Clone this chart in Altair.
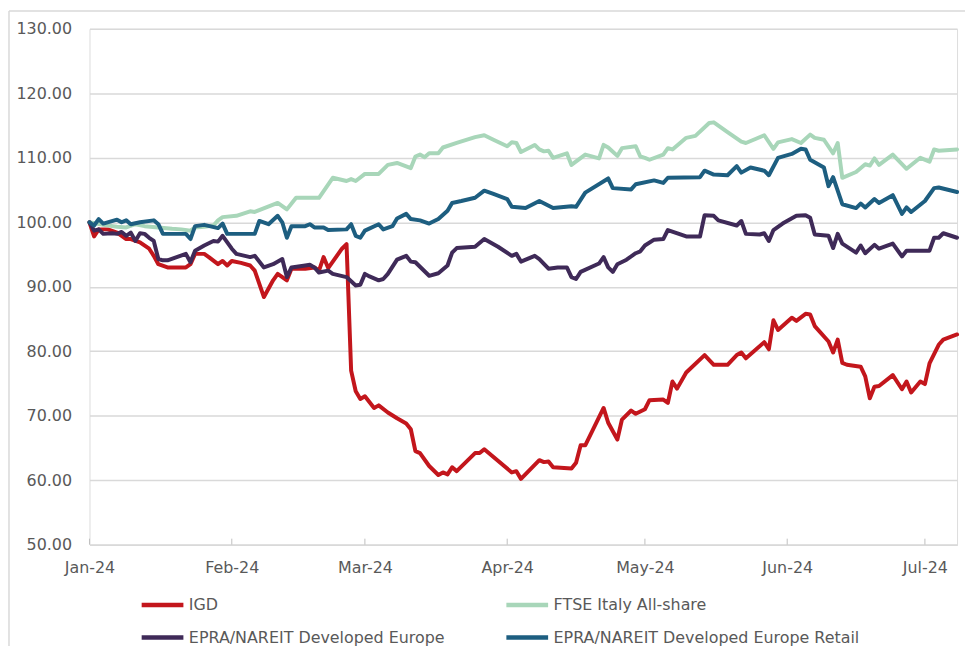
import altair as alt
import pandas as pd

SERIES = ["IGD", "FTSE Italy All-share", "EPRA/NAREIT Developed Europe",
          "EPRA/NAREIT Developed Europe Retail"]
COLORS = ["#C3161C", "#A8D6B9", "#3F2A58", "#1D5E80"]

igd_dates = ["2024-01-01", "2024-01-02", "2024-01-03", "2024-01-05", "2024-01-07", "2024-01-09",
             "2024-01-10", "2024-01-12", "2024-01-14", "2024-01-15", "2024-01-16", "2024-01-18",
             "2024-01-22", "2024-01-23", "2024-01-24", "2024-01-26", "2024-01-27", "2024-01-29",
             "2024-01-30", "2024-01-31", "2024-02-01", "2024-02-03", "2024-02-05", "2024-02-06",
             "2024-02-08", "2024-02-10", "2024-02-11", "2024-02-13", "2024-02-14", "2024-02-17",
             "2024-02-19", "2024-02-20", "2024-02-21", "2024-02-22", "2024-02-25", "2024-02-26",
             "2024-02-27", "2024-02-28", "2024-02-29", "2024-03-01", "2024-03-03", "2024-03-04",
             "2024-03-06", "2024-03-08", "2024-03-10", "2024-03-11", "2024-03-12", "2024-03-13",
             "2024-03-15", "2024-03-17", "2024-03-18", "2024-03-19", "2024-03-20", "2024-03-21",
             "2024-03-25", "2024-03-26", "2024-03-27", "2024-04-02", "2024-04-03", "2024-04-04",
             "2024-04-08", "2024-04-09", "2024-04-10", "2024-04-11", "2024-04-15", "2024-04-16",
             "2024-04-17", "2024-04-18", "2024-04-22", "2024-04-23", "2024-04-25", "2024-04-26",
             "2024-04-28", "2024-04-29", "2024-05-01", "2024-05-02", "2024-05-05", "2024-05-06",
             "2024-05-07", "2024-05-08", "2024-05-10", "2024-05-14", "2024-05-16", "2024-05-19",
             "2024-05-21", "2024-05-22", "2024-05-23", "2024-05-27", "2024-05-28", "2024-05-29",
             "2024-05-30", "2024-06-02", "2024-06-03", "2024-06-05", "2024-06-06", "2024-06-07",
             "2024-06-10", "2024-06-11", "2024-06-12", "2024-06-13", "2024-06-14", "2024-06-17",
             "2024-06-18", "2024-06-19", "2024-06-20", "2024-06-21", "2024-06-24", "2024-06-26",
             "2024-06-27", "2024-06-28", "2024-06-30", "2024-07-01", "2024-07-02", "2024-07-04",
             "2024-07-05", "2024-07-08"]
igd_values = [100.0, 97.8, 98.9, 98.9, 98.4, 97.4,
              97.4, 96.9, 95.9, 94.8, 93.5, 93.0,
              93.0, 93.5, 95.1, 95.1, 94.6, 93.5,
              94.0, 93.3, 94.0, 93.7, 93.3, 92.5,
              88.4, 91.0, 92.0, 91.0, 92.8, 92.8,
              93.0, 92.5, 94.6, 92.9, 95.9, 96.6,
              77.0, 73.8, 72.6, 73.0, 71.2, 71.6,
              70.5, 69.6, 68.8, 67.9, 64.5, 64.2,
              62.2, 60.8, 61.2, 60.9, 62.0, 61.4,
              64.2, 64.2, 64.8, 61.2, 61.4, 60.2,
              63.1, 62.8, 62.9, 62.0, 61.8, 62.7,
              65.4, 65.4, 71.2, 68.9, 66.3, 69.4,
              70.8, 70.3, 71.0, 72.4, 72.5, 72.0,
              75.3, 74.2, 76.7, 79.4, 77.9, 77.9,
              79.4, 79.8, 78.9, 81.4, 80.3, 84.8,
              83.3, 85.2, 84.7, 85.8, 85.7, 83.9,
              81.5, 79.8, 81.8, 78.2, 77.9, 77.6,
              76.1, 72.7, 74.5, 74.6, 76.3, 74.1,
              75.3, 73.6, 75.3, 74.9, 78.1, 81.0,
              81.8, 82.6]

ftse_dates = ["2024-01-01", "2024-01-04", "2024-01-07", "2024-01-09", "2024-01-11", "2024-01-13",
              "2024-01-16", "2024-01-19", "2024-01-21", "2024-01-23", "2024-01-24", "2024-01-26",
              "2024-01-28", "2024-01-29", "2024-01-30", "2024-02-02", "2024-02-05", "2024-02-06",
              "2024-02-11", "2024-02-13", "2024-02-15", "2024-02-20", "2024-02-23", "2024-02-26",
              "2024-02-27", "2024-02-28", "2024-03-01", "2024-03-04", "2024-03-06", "2024-03-08",
              "2024-03-11", "2024-03-12", "2024-03-13", "2024-03-14", "2024-03-15", "2024-03-17",
              "2024-03-18", "2024-03-21", "2024-03-25", "2024-03-27", "2024-03-29", "2024-04-01",
              "2024-04-02", "2024-04-03", "2024-04-04", "2024-04-07", "2024-04-08", "2024-04-09",
              "2024-04-10", "2024-04-11", "2024-04-14", "2024-04-15", "2024-04-18", "2024-04-21",
              "2024-04-22", "2024-04-23", "2024-04-25", "2024-04-26", "2024-04-29", "2024-04-30",
              "2024-05-01", "2024-05-02", "2024-05-05", "2024-05-06", "2024-05-07", "2024-05-10",
              "2024-05-12", "2024-05-15", "2024-05-16", "2024-05-19", "2024-05-22", "2024-05-23",
              "2024-05-27", "2024-05-29", "2024-05-30", "2024-06-02", "2024-06-04", "2024-06-06",
              "2024-06-07", "2024-06-09", "2024-06-11", "2024-06-12", "2024-06-13", "2024-06-16",
              "2024-06-18", "2024-06-19", "2024-06-20", "2024-06-21", "2024-06-24", "2024-06-27",
              "2024-06-30", "2024-07-02", "2024-07-03", "2024-07-04", "2024-07-08"]
ftse_values = [100.0, 99.6, 99.3, 99.2, 99.7, 99.4,
               99.2, 99.0, 98.9, 98.7, 99.2, 99.3,
               99.5, 100.3, 100.8, 101.0, 101.7, 101.6,
               103.0, 102.0, 103.8, 103.8, 106.9, 106.4,
               106.7, 106.4, 107.5, 107.5, 108.9, 109.2,
               108.4, 110.2, 110.5, 110.1, 110.7, 110.7,
               111.6, 112.3, 113.2, 113.5, 112.8, 111.8,
               112.4, 112.3, 110.9, 112.0, 111.3, 111.0,
               111.1, 110.0, 110.7, 108.9, 110.5, 109.9,
               112.0, 111.6, 110.3, 111.5, 111.8, 110.2,
               110.0, 109.7, 110.5, 111.5, 111.3, 113.1,
               113.4, 115.4, 115.5, 114.0, 112.5, 112.3,
               113.5, 111.4, 112.4, 112.9, 112.3, 113.6,
               113.1, 112.8, 110.7, 112.3, 106.9, 107.8,
               109.0, 108.8, 109.9, 108.9, 110.5, 108.3,
               110.0, 109.4, 111.3, 111.1, 111.3]

epra_dates = ["2024-01-01", "2024-01-02", "2024-01-03", "2024-01-04", "2024-01-06", "2024-01-07",
              "2024-01-08", "2024-01-09", "2024-01-10", "2024-01-11", "2024-01-12", "2024-01-13",
              "2024-01-14", "2024-01-15", "2024-01-16", "2024-01-17", "2024-01-18", "2024-01-20",
              "2024-01-22", "2024-01-23", "2024-01-24", "2024-01-26", "2024-01-28", "2024-01-29",
              "2024-01-30", "2024-02-01", "2024-02-02", "2024-02-05", "2024-02-06", "2024-02-08",
              "2024-02-10", "2024-02-12", "2024-02-13", "2024-02-14", "2024-02-17", "2024-02-18",
              "2024-02-19", "2024-02-20", "2024-02-22", "2024-02-23", "2024-02-26", "2024-02-28",
              "2024-02-29", "2024-03-01", "2024-03-02", "2024-03-04", "2024-03-05", "2024-03-06",
              "2024-03-08", "2024-03-10", "2024-03-11", "2024-03-12", "2024-03-15", "2024-03-17",
              "2024-03-19", "2024-03-20", "2024-03-21", "2024-03-25", "2024-03-27", "2024-03-30",
              "2024-04-02", "2024-04-03", "2024-04-04", "2024-04-07", "2024-04-08", "2024-04-10",
              "2024-04-12", "2024-04-14", "2024-04-15", "2024-04-16", "2024-04-17", "2024-04-21",
              "2024-04-22", "2024-04-23", "2024-04-24", "2024-04-25", "2024-04-27", "2024-04-29",
              "2024-04-30", "2024-05-01", "2024-05-03", "2024-05-05", "2024-05-06", "2024-05-10",
              "2024-05-13", "2024-05-14", "2024-05-16", "2024-05-17", "2024-05-21", "2024-05-22",
              "2024-05-23", "2024-05-26", "2024-05-27", "2024-05-28", "2024-05-29", "2024-05-31",
              "2024-06-03", "2024-06-05", "2024-06-06", "2024-06-07", "2024-06-10", "2024-06-11",
              "2024-06-12", "2024-06-13", "2024-06-16", "2024-06-17", "2024-06-18", "2024-06-20",
              "2024-06-21", "2024-06-24", "2024-06-26", "2024-06-27", "2024-07-02", "2024-07-03",
              "2024-07-04", "2024-07-05", "2024-07-08"]
epra_values = [100.0, 98.7, 98.9, 98.2, 98.3, 98.2,
               98.5, 97.9, 98.4, 97.1, 98.3, 98.2,
               97.6, 97.1, 94.3, 94.1, 94.1, 94.6,
               95.1, 93.8, 95.6, 96.4, 97.1, 97.0,
               97.9, 95.9, 95.1, 94.6, 94.8, 93.0,
               93.5, 94.3, 91.5, 93.0, 93.3, 93.4,
               93.0, 92.2, 92.5, 92.0, 91.5, 90.2,
               90.3, 92.0, 91.6, 91.0, 91.2, 92.0,
               94.2, 94.8, 93.9, 93.8, 91.7, 92.1,
               93.3, 95.3, 96.0, 96.2, 97.4, 96.2,
               94.8, 95.1, 93.9, 94.8, 94.3, 92.8,
               93.0, 93.0, 91.5, 91.2, 92.3, 93.6,
               94.6, 93.0, 92.3, 93.5, 94.2, 95.2,
               95.5, 96.4, 97.3, 97.4, 98.8, 97.8,
               97.8, 101.1, 101.0, 100.3, 99.5, 100.2,
               98.2, 98.1, 98.3, 97.1, 98.8, 99.8,
               101.0, 101.1, 100.7, 98.1, 97.9, 96.0,
               98.2, 96.7, 95.3, 96.4, 95.2, 96.5,
               95.9, 96.7, 94.7, 95.6, 95.6, 97.6,
               97.6, 98.3, 97.6]

retail_dates = ["2024-01-01", "2024-01-02", "2024-01-03", "2024-01-04", "2024-01-07", "2024-01-08",
                "2024-01-09", "2024-01-10", "2024-01-12", "2024-01-15", "2024-01-16", "2024-01-17",
                "2024-01-19", "2024-01-22", "2024-01-23", "2024-01-24", "2024-01-26", "2024-01-29",
                "2024-01-30", "2024-01-31", "2024-02-03", "2024-02-06", "2024-02-07", "2024-02-09",
                "2024-02-11", "2024-02-12", "2024-02-13", "2024-02-14", "2024-02-17", "2024-02-18",
                "2024-02-19", "2024-02-21", "2024-02-22", "2024-02-26", "2024-02-27", "2024-02-28",
                "2024-02-29", "2024-03-01", "2024-03-04", "2024-03-05", "2024-03-07", "2024-03-08",
                "2024-03-10", "2024-03-11", "2024-03-13", "2024-03-15", "2024-03-17", "2024-03-19",
                "2024-03-20", "2024-03-22", "2024-03-25", "2024-03-27", "2024-03-29", "2024-04-01",
                "2024-04-02", "2024-04-05", "2024-04-08", "2024-04-11", "2024-04-15", "2024-04-16",
                "2024-04-18", "2024-04-23", "2024-04-24", "2024-04-28", "2024-04-29", "2024-05-03",
                "2024-05-05", "2024-05-06", "2024-05-13", "2024-05-14", "2024-05-16", "2024-05-19",
                "2024-05-21", "2024-05-22", "2024-05-24", "2024-05-27", "2024-05-28", "2024-05-30",
                "2024-06-02", "2024-06-04", "2024-06-05", "2024-06-06", "2024-06-09", "2024-06-10",
                "2024-06-11", "2024-06-13", "2024-06-16", "2024-06-17", "2024-06-18", "2024-06-20",
                "2024-06-21", "2024-06-24", "2024-06-26", "2024-06-27", "2024-06-28", "2024-07-01",
                "2024-07-03", "2024-07-04", "2024-07-08"]
retail_values = [100.0, 99.5, 100.5, 99.8, 100.4, 100.0,
                 100.3, 99.7, 100.0, 100.3, 99.7, 98.2,
                 98.2, 98.2, 97.4, 99.4, 99.6, 99.1,
                 99.8, 98.2, 98.2, 98.2, 100.2, 99.7,
                 101.0, 100.0, 97.6, 99.4, 99.4, 99.7,
                 99.2, 99.2, 98.8, 98.9, 99.7, 97.9,
                 97.6, 98.7, 99.7, 98.9, 99.4, 100.6,
                 101.3, 100.5, 100.3, 99.8, 100.5, 101.8,
                 103.0, 103.3, 103.8, 104.9, 104.4, 103.6,
                 102.4, 102.2, 103.3, 102.2, 102.5, 102.4,
                 104.6, 106.8, 105.3, 105.1, 105.9, 106.5,
                 106.1, 106.9, 107.0, 108.0, 107.4, 107.3,
                 108.7, 107.7, 108.5, 108.0, 107.3, 110.0,
                 110.6, 111.4, 111.3, 109.7, 108.5, 105.6,
                 107.0, 102.8, 102.2, 102.9, 102.3, 103.6,
                 103.0, 104.2, 101.3, 102.3, 101.6, 103.3,
                 105.3, 105.4, 104.7]

MONTH_TICKS = ["2024-01-01", "2024-02-01", "2024-03-01", "2024-04-01",
               "2024-05-01", "2024-06-01", "2024-07-01"]
Y_TICKS = [50, 60, 70, 80, 90, 100, 110, 120, 130]

frames = []
for name, d, v in zip(SERIES, [igd_dates, ftse_dates, epra_dates, retail_dates],
                      [igd_values, ftse_values, epra_values, retail_values]):
    frames.append(pd.DataFrame({"date": pd.to_datetime(d), "value": v, "series": name}))
df = pd.concat(frames, ignore_index=True)

W, H = 873, 519
FONT = "DejaVu Sans"
TXT = "#595959"
GRID = "#D9D9D9"

x_scale = alt.Scale(domain=[alt.DateTime(year=2024, month=1, date=1),
                            alt.DateTime(year=2024, month=7, date=8)], nice=False)
y_scale = alt.Scale(domain=[50, 130], nice=False, zero=False)
color_scale = alt.Scale(domain=SERIES, range=COLORS)

x_axis = alt.Axis(title=None, format="%b-%y", grid=False, ticks=False, domain=True,
                  domainColor=GRID, domainWidth=1.5, labelFlush=False, labelOverlap=False,
                  values=[alt.DateTime(year=2024, month=m, date=1) for m in range(1, 8)],
                  labelPadding=15, labelFontSize=16, labelColor=TXT, labelFont=FONT)
y_axis = alt.Axis(title=None, format=".2f", values=Y_TICKS, grid=True, gridColor=GRID,
                  gridWidth=1.5, domain=False, ticks=False, labelPadding=18,
                  labelFontSize=16, labelColor=TXT, labelFont=FONT)
legend = alt.Legend(title=None, orient="none", direction="horizontal", legendX=50,
                    legendY=556, columns=2,
                    symbolType="stroke", symbolSize=1764, symbolStrokeWidth=4.5,
                    labelFontSize=16, labelFont=FONT, labelColor=TXT, labelLimit=600,
                    labelOffset=3, columnPadding=52, rowPadding=-12, padding=0)

layers = []
tick_df = pd.DataFrame({"date": pd.to_datetime(MONTH_TICKS)})
ticks = alt.Chart(tick_df).mark_rule(color="#BFBFBF", strokeWidth=1).encode(
    x=alt.X("date:T", scale=x_scale, axis=x_axis),
    y=alt.value(H - 6), y2=alt.value(H))
layers.append(ticks)

for name in SERIES:
    layers.append(
        alt.Chart(df).transform_filter(alt.datum.series == name)
        .mark_line(strokeWidth=4, strokeJoin="round", strokeCap="round")
        .encode(
            x=alt.X("date:T", scale=x_scale, axis=x_axis),
            y=alt.Y("value:Q", scale=y_scale, axis=y_axis),
            color=alt.Color("series:N", scale=color_scale, legend=legend),
        )
    )

border_df = pd.DataFrame({"k": [0]})
border_left = alt.Chart(border_df).mark_rule(color=GRID, strokeWidth=1.5).encode(
    x=alt.value(-81), y=alt.value(-18), y2=alt.value(H + 110))
border_top = alt.Chart(border_df).mark_rule(color=GRID, strokeWidth=1.5).encode(
    x=alt.value(-81), x2=alt.value(W + 20), y=alt.value(-18))
layers += [border_left, border_top]

chart = alt.layer(*layers).properties(
    width=W, height=H,
    autosize=alt.AutoSizeParams(type="none"),
    padding={"left": 82, "top": 19, "right": 8, "bottom": 100},
).configure_view(stroke=None).configure(font=FONT)

chart.save("out.html", embed_options={"renderer": "svg", "actions": False})
